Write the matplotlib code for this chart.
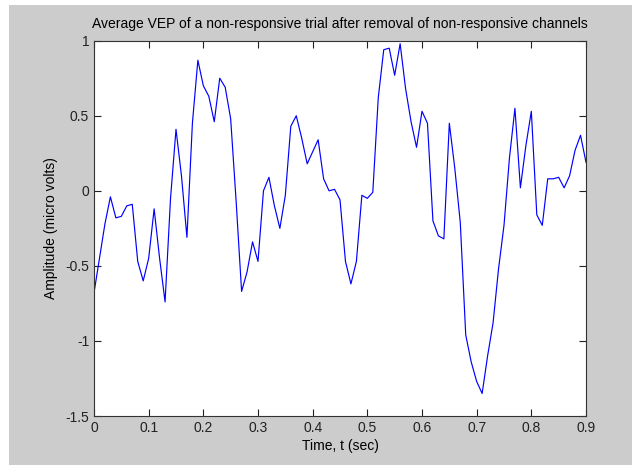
import numpy as np
import matplotlib.pyplot as plt
from matplotlib.patches import Rectangle

t = np.round(np.arange(0, 0.901, 0.01), 2)
amplitude = [
    -0.68, -0.45, -0.22, -0.04, -0.18, -0.17, -0.10, -0.09, -0.47, -0.60,
    -0.45, -0.12, -0.45, -0.74, -0.05, 0.41, 0.10, -0.31, 0.45, 0.87,
    0.70, 0.63, 0.46, 0.75, 0.69, 0.48, -0.07, -0.67, -0.54, -0.34,
    -0.47, 0.00, 0.09, -0.10, -0.25, -0.03, 0.43, 0.50, 0.35, 0.18,
    0.26, 0.34, 0.08, 0.00, 0.01, -0.06, -0.47, -0.62, -0.47, -0.03,
    -0.05, -0.01, 0.62, 0.94, 0.95, 0.77, 0.98, 0.68, 0.46, 0.29,
    0.53, 0.45, -0.20, -0.30, -0.32, 0.45, 0.15, -0.21, -0.96, -1.14,
    -1.27, -1.35, -1.10, -0.88, -0.52, -0.23, 0.22, 0.55, 0.02, 0.30,
    0.53, -0.16, -0.23, 0.08, 0.08, 0.09, 0.02, 0.10, 0.27, 0.37,
    0.19,
]
xticks = [0, 0.1, 0.2, 0.3, 0.4, 0.5, 0.6, 0.7, 0.8, 0.9]
xtick_labels = ["0", "0.1", "0.2", "0.3", "0.4", "0.5", "0.6", "0.7", "0.8", "0.9"]
yticks = [-1.5, -1, -0.5, 0, 0.5, 1]
ytick_labels = ["-1.5", "-1", "-0.5", "0", "0.5", "1"]

plt.rcParams["font.family"] = ["Liberation Sans", "DejaVu Sans"]
fs = 10

fig = plt.figure(figsize=(6.32, 4.65), dpi=100, facecolor="white")
# matlab grey figure background (white strip on top/left like the screenshot)
fig.patches.append(Rectangle((9 / 632, 0), 1, 460 / 465, transform=fig.transFigure,
                             facecolor="#cccccc", edgecolor="none", zorder=-10))

ax = fig.add_axes([94 / 632, 49 / 465, 492 / 632, 375.3 / 465])
ax.plot(t, amplitude, color="#0000ff", lw=0.85)

ax.set_xlim(0, 0.9)
ax.set_ylim(-1.5, 1)
ax.set_xticks(xticks)
ax.set_xticklabels(xtick_labels)
ax.set_yticks(yticks)
ax.set_yticklabels(ytick_labels)
ax.tick_params(direction="in", length=5, width=0.8, top=True, right=True,
               labelsize=fs, colors="#222222", pad=3.5)
for s in ax.spines.values():
    s.set_color("#333333")
    s.set_linewidth(0.8)

ax.set_title("Average VEP of a non-responsive trial after removal of non-responsive channels",
             fontsize=fs, pad=9)
ax.set_xlabel("Time, t (sec)", fontsize=fs, labelpad=3)
ax.set_ylabel("Amplitude (micro volts)", fontsize=fs, labelpad=5)

fig.savefig("out.png", dpi=100, facecolor=fig.get_facecolor())
